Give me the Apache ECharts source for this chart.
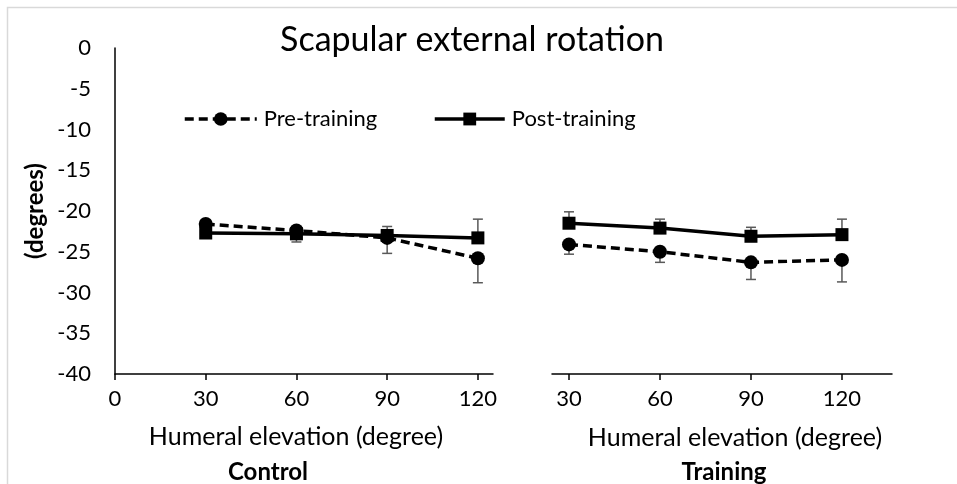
<!DOCTYPE html>
<html>
<head>
<meta charset="utf-8">
<script src="https://cdn.jsdelivr.net/npm/echarts@6/dist/echarts.min.js"></script>
<style>
  html, body { margin: 0; padding: 0; background: #fff; }
  #chart { width: 957px; height: 484px; }
</style>
</head>
<body>
<div id="chart"></div>
<script>
// Humeral elevation angles (degrees) at which scapular rotation was measured
const elevations = [30, 60, 90, 120];
const xTicksControl = [0, 30, 60, 90, 120];
const xTicksTraining = [30, 60, 90, 120];

// Control group: means and SDs (degrees)
const controlPre = [-21.6, -22.4, -23.3, -25.8];
const controlPost = [-22.7, -22.8, -23.0, -23.3];
const controlPreSD = [0.6, 1.4, 1.9, 3.0];
const controlPostSD = [0.5, 0.6, 1.1, 2.3];

// Training group: means and SDs (degrees)
const trainingPre = [-24.1, -25.0, -26.3, -26.0];
const trainingPost = [-21.5, -22.1, -23.1, -22.9];
const trainingPreSD = [1.2, 1.3, 2.1, 2.7];
const trainingPostSD = [1.4, 1.1, 1.1, 1.9];

const FONT = 'Lato, "Open Sans", sans-serif';

function pairs(values) {
  return elevations.map((x, i) => [x, values[i]]);
}

function lineSeries(name, idx, values, dashed) {
  return {
    name: name,
    type: 'line',
    xAxisIndex: idx,
    yAxisIndex: idx,
    data: pairs(values),
    symbol: dashed ? 'circle' : 'rect',
    symbolSize: dashed ? 14 : 13,
    itemStyle: { color: '#000' },
    lineStyle: { color: '#000', width: 3.5, type: dashed ? [9, 5] : 'solid' },
    z: 3
  };
}

// One-sided error bars: dir = -1 draws below the mean, +1 above it
function errorBars(idx, means, sds, dir) {
  return {
    type: 'custom',
    xAxisIndex: idx,
    yAxisIndex: idx,
    silent: true,
    z: 1,
    data: elevations.map((x, i) => [x, means[i], means[i] + dir * sds[i]]),
    encode: { x: 0, y: [1, 2] },
    renderItem: function (params, api) {
      const p0 = api.coord([api.value(0), api.value(1)]);
      const p1 = api.coord([api.value(0), api.value(2)]);
      const hw = 5;
      const st = { stroke: '#595959', lineWidth: 1.5 };
      return {
        type: 'group',
        children: [
          { type: 'line', shape: { x1: p0[0], y1: p0[1], x2: p1[0], y2: p1[1] }, style: st },
          { type: 'line', shape: { x1: p1[0] - hw, y1: p1[1], x2: p1[0] + hw, y2: p1[1] }, style: st }
        ]
      };
    }
  };
}

const axisLineX = { show: true, onZero: false, lineStyle: { color: '#000', width: 1.5 } };
const axisLineY = { show: true, onZero: false, lineStyle: { color: '#000', width: 1.5 } };
const labelStyle = { color: '#000', fontFamily: FONT, fontSize: 22 };

const chart = echarts.init(document.getElementById('chart'), null, { renderer: 'canvas' });

chart.setOption({
  animation: false,
  backgroundColor: '#fff',
  grid: [
    { left: 115, top: 48, width: 378, height: 326 },
    { left: 552, top: 48, width: 340, height: 326 }
  ],
  xAxis: [
    {
      type: 'value', gridIndex: 0, min: 0, max: 125, position: 'bottom',
      splitLine: { show: false },
      axisLine: axisLineX,
      axisTick: { show: true, customValues: xTicksControl, length: 6, lineStyle: { color: '#000', width: 1.5 } },
      axisLabel: Object.assign({ customValues: xTicksControl, margin: 14 }, labelStyle)
    },
    {
      type: 'value', gridIndex: 1, min: 24.4, max: 136.5, position: 'bottom',
      splitLine: { show: false },
      axisLine: axisLineX,
      axisTick: { show: true, customValues: xTicksTraining, length: 6, lineStyle: { color: '#000', width: 1.5 } },
      axisLabel: Object.assign({ customValues: xTicksTraining, margin: 14 }, labelStyle)
    }
  ],
  yAxis: [
    {
      type: 'value', gridIndex: 0, min: -40, max: 0, interval: 5, position: 'left',
      splitLine: { show: false },
      axisLine: axisLineY,
      axisTick: { show: false },
      axisLabel: Object.assign({ margin: 24 }, labelStyle)
    },
    {
      type: 'value', gridIndex: 1, min: -40, max: 0, interval: 5,
      show: false
    }
  ],
  legend: [
    {
      data: ['Pre-training'], left: 183, top: 108, padding: 0,
      itemWidth: 72, itemHeight: 17, itemGap: 0,
      lineStyle: { width: 3.5 },
      textStyle: { color: '#000', fontFamily: FONT, fontSize: 22, padding: [0, 0, 0, 2] }
    },
    {
      data: ['Post-training'], left: 433, top: 108, padding: 0,
      itemWidth: 70, itemHeight: 16, itemGap: 0,
      lineStyle: { width: 3.5 },
      textStyle: { color: '#000', fontFamily: FONT, fontSize: 22, padding: [0, 0, 0, 2] }
    }
  ],
  series: [
    errorBars(0, controlPre, controlPreSD, -1),
    errorBars(0, controlPost, controlPostSD, 1),
    errorBars(1, trainingPre, trainingPreSD, -1),
    errorBars(1, trainingPost, trainingPostSD, 1),
    lineSeries('Pre-training', 0, controlPre, true),
    lineSeries('Post-training', 0, controlPost, false),
    lineSeries('Pre-training', 1, trainingPre, true),
    lineSeries('Post-training', 1, trainingPost, false)
  ],
  graphic: [
    // light frame along the top and left edges
    { type: 'polyline', shape: { points: [[7.5, 484], [7.5, 7.5], [957, 7.5]] }, style: { stroke: '#d9d9d9', lineWidth: 1.5, fill: null }, silent: true },
    { type: 'text', style: { text: 'Scapular external rotation', x: 472, y: 40, align: 'center', verticalAlign: 'middle', fontFamily: FONT, fontSize: 34, fill: '#000' } },
    { type: 'text', style: { text: '(degrees)', x: 0, y: 0, align: 'center', verticalAlign: 'middle', fontFamily: FONT, fontSize: 24, fontWeight: 'bold', fill: '#000' }, x: 35, y: 211, rotation: Math.PI / 2 },
    { type: 'text', style: { text: 'Humeral elevation (degree)', x: 296, y: 437, align: 'center', verticalAlign: 'middle', fontFamily: FONT, fontSize: 25, fill: '#000' } },
    { type: 'text', style: { text: 'Humeral elevation (degree)', x: 735, y: 438, align: 'center', verticalAlign: 'middle', fontFamily: FONT, fontSize: 25, fill: '#000' } },
    { type: 'text', style: { text: 'Control', x: 268, y: 472, align: 'center', verticalAlign: 'middle', fontFamily: FONT, fontSize: 24, fontWeight: 'bold', fill: '#000' } },
    { type: 'text', style: { text: 'Training', x: 724, y: 472, align: 'center', verticalAlign: 'middle', fontFamily: FONT, fontSize: 24, fontWeight: 'bold', fill: '#000' } }
  ]
});
</script>
</body>
</html>
